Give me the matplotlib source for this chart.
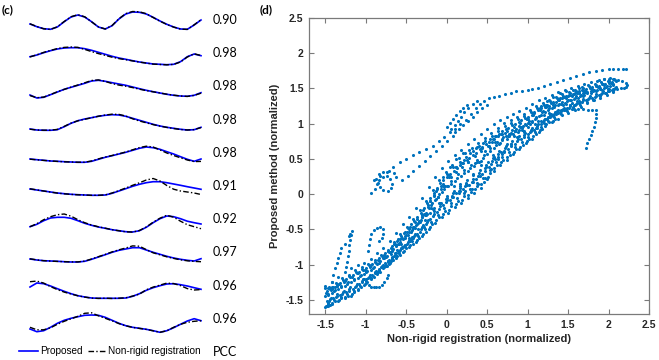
import matplotlib
matplotlib.use("Agg")
import matplotlib.pyplot as plt
from matplotlib.lines import Line2D

# ------------------------------------------------------------------
# Panel (c): ten waveform pairs (heights in px above each row baseline)
# ------------------------------------------------------------------
t_samples = list(range(26))
pcc_values = ["0.90", "0.98", "0.98", "0.98", "0.98", "0.91", "0.92", "0.97", "0.96", "0.96"]

sig1_prop = [6.0, 3.3, 1.3, 0.7, 3.0, 8.3, 13.0, 15.0, 13.0, 8.3, 3.0, 1.0, 4.3, 11.0, 16.0, 18.0, 17.7, 16.0, 12.7, 9.0, 5.7, 3.0, 1.0, 0.7, 5.0, 10.0]
sig1_nrr = [6.2, 3.5, 1.2, 0.6, 3.2, 8.5, 13.3, 15.3, 13.2, 8.2, 3.1, 1.0, 4.5, 11.3, 16.4, 18.5, 18.2, 16.3, 12.5, 8.8, 5.6, 2.9, 0.9, 0.6, 5.2, 10.3]
sig2_prop = [6.5, 8.2, 10.5, 12.5, 14.2, 15.2, 15.5, 15.5, 14.5, 12.9, 10.9, 8.9, 6.9, 5.2, 3.9, 2.5, 1.2, 0.2, -0.8, -1.1, -1.5, -1.1, 1.5, 6.5, 9.2, 7.5]
sig2_nrr = [6.3, 8.4, 10.8, 12.8, 14.6, 15.8, 16.2, 15.8, 13.8, 11.6, 9.6, 7.8, 6.0, 4.6, 3.5, 2.3, 1.1, 0.1, -0.9, -1.3, -1.6, -1.2, 1.2, 6.2, 9.4, 7.7]
sig3_prop = [1.4, -1.6, -0.9, 1.7, 4.4, 7.1, 9.1, 11.1, 13.1, 15.4, 16.1, 15.1, 13.7, 12.4, 11.1, 9.4, 7.7, 6.1, 4.7, 3.4, 2.1, 1.1, 0.4, 0.1, 1.1, 3.7]
sig3_nrr = [0.8, -1.3, -0.7, 1.9, 4.6, 7.0, 9.3, 11.4, 13.6, 15.9, 16.5, 15.0, 12.8, 11.3, 10.2, 8.8, 7.2, 5.8, 4.6, 3.4, 2.2, 1.2, 0.4, 0.0, 1.0, 3.2]
sig4_prop = [0.6, -0.4, -0.7, -0.7, -0.1, 2.9, 6.3, 8.9, 10.6, 11.9, 13.3, 14.3, 14.9, 14.6, 13.3, 11.3, 9.3, 7.3, 5.3, 3.6, 2.3, 1.3, 0.3, -0.4, -0.1, 2.3]
sig4_nrr = [0.4, -0.4, -0.6, -0.6, 0.2, 3.2, 6.5, 8.8, 10.4, 11.8, 13.4, 14.6, 15.4, 15.2, 13.6, 10.8, 8.6, 6.8, 5.0, 3.5, 2.2, 1.1, 0.1, -0.4, 0.0, 2.0]
sig5_prop = [3.8, 3.1, 2.5, 1.8, 1.5, 1.1, 0.8, 0.5, 0.5, 1.5, 3.5, 5.5, 7.1, 8.8, 10.5, 12.5, 14.5, 15.8, 15.1, 13.5, 11.1, 8.8, 6.1, 3.5, 1.5, 3.8]
sig5_nrr = [3.6, 3.0, 2.4, 1.9, 1.4, 1.0, 0.8, 0.6, 0.6, 1.8, 3.9, 5.8, 7.3, 9.0, 10.8, 13.0, 15.2, 16.6, 15.8, 12.9, 9.8, 7.3, 5.0, 2.8, 1.2, 1.4]
sig6_prop = [7.0, 6.0, 5.0, 4.0, 3.0, 2.3, 1.7, 1.3, 1.0, 0.7, 0.7, 1.0, 2.7, 5.0, 7.3, 9.7, 11.7, 13.3, 14.3, 14.3, 13.3, 12.0, 10.7, 9.3, 8.0, 6.7]
sig6_nrr = [7.2, 6.1, 5.0, 3.9, 2.9, 2.2, 1.6, 1.2, 1.0, 0.7, 0.7, 1.1, 3.0, 5.4, 8.0, 10.7, 13.2, 16.0, 17.5, 15.0, 10.5, 6.8, 5.0, 4.0, 3.0, 1.5]
sig7_prop = [2.5, 4.9, 8.5, 11.2, 11.9, 11.9, 10.9, 8.5, 5.9, 3.9, 2.2, 0.9, -0.5, -1.5, -2.5, -2.8, -1.5, 1.9, 6.5, 10.5, 13.2, 12.5, 10.5, 8.0, 6.5, 5.2]
sig7_nrr = [2.5, 5.5, 9.5, 12.5, 14.5, 15.2, 13.0, 9.5, 6.5, 4.2, 2.4, 1.0, -0.5, -1.6, -2.6, -2.9, -1.3, 2.2, 7.0, 11.0, 14.0, 12.0, 8.0, 4.5, 2.5, 0.5]
sig8_prop = [3.4, 2.4, 1.7, 1.4, 1.1, 0.7, 0.4, 0.4, 1.1, 3.1, 5.4, 7.7, 10.1, 12.1, 13.4, 14.7, 14.7, 12.4, 10.1, 8.1, 6.1, 4.4, 3.1, 2.1, 1.4, 3.7]
sig8_nrr = [3.6, 2.5, 1.7, 1.3, 1.0, 0.7, 0.5, 0.5, 1.3, 3.4, 5.7, 8.0, 10.5, 12.6, 14.4, 16.5, 16.2, 12.8, 9.6, 7.6, 5.6, 4.0, 2.6, 1.6, 1.0, 0.7]
sig9_prop = [8.6, 12.6, 11.9, 9.6, 6.9, 4.3, 1.9, -0.1, -1.4, -2.4, -2.7, -2.7, -2.7, -2.7, -2.4, -0.7, 1.9, 5.3, 7.9, 9.9, 11.6, 11.9, 10.9, 9.6, 7.9, 6.3]
sig9_nrr = [13.9, 14.5, 12.5, 9.0, 6.0, 3.5, 1.6, -0.2, -1.5, -2.5, -2.8, -2.6, -2.9, -2.6, -2.2, -0.5, 1.5, 5.8, 8.5, 10.5, 12.5, 12.0, 10.0, 7.0, 5.6, 6.0]
sig10_prop = [-0.2, -2.9, -1.9, 1.5, 5.5, 8.5, 10.5, 12.1, 13.5, 13.8, 13.5, 11.5, 8.5, 5.5, 3.1, 1.5, 0.5, -0.5, -1.9, -3.5, -1.9, 1.1, 4.5, 7.8, 10.1, 8.1]
sig10_nrr = [1.5, -1.0, -1.0, 1.0, 4.5, 7.5, 10.0, 12.5, 15.5, 16.0, 13.0, 10.5, 8.0, 5.2, 3.0, 1.4, 0.4, -0.6, -2.0, -3.5, -2.0, 1.5, 4.5, 6.5, 7.5, 8.0]

# ------------------------------------------------------------------
# Panel (d): scatter points, grouped by trajectory
# ------------------------------------------------------------------
g0 = [-1.50, -1.42, -1.34, -1.26, -1.18, -1.10, -1.02, -0.94, -0.86, -0.78, -0.70, -0.62, -0.54, -0.46, -0.38, -0.30, -0.22, -0.14, -0.06, 0.02, 0.10, 0.18, 0.26, 0.34, 0.42, 0.50, 0.58, 0.66, 0.74, 0.82, 0.90, 0.98, 1.06, 1.14, 1.22, 1.30, 1.38, 1.46, 1.54, 1.62, 1.70, 1.78, 1.86, 1.94, 2.02]
g1 = [-1.49, -1.41, -1.33, -1.25, -1.17, -1.09, -1.01, -0.93, -0.85, -0.77, -0.69, -0.61, -0.53, -0.45, -0.37, -0.29, -0.21, -0.13, -0.05, 0.03, 0.11, 0.19, 0.27, 0.35, 0.43, 0.51, 0.59, 0.67, 0.75, 0.83, 0.91, 0.99, 1.07, 1.15, 1.23, 1.31, 1.39, 1.47, 1.55, 1.63, 1.71, 1.79, 1.87, 1.95, 2.03]
g2 = [-1.48, -1.40, -1.32, -1.24, -1.16, -1.08, -1.00, -0.92, -0.84, -0.76, -0.68, -0.60, -0.52, -0.44, -0.36, -0.28, -0.20, -0.12, -0.04, 0.04, 0.12, 0.20, 0.28, 0.36, 0.44, 0.52, 0.60, 0.68, 0.76, 0.84, 0.92, 1.00, 1.08, 1.16, 1.24, 1.32, 1.40, 1.48, 1.56, 1.64, 1.72, 1.80, 1.88, 1.96, 2.04]
g3 = [-1.47, -1.39, -1.31, -1.23, -1.15, -1.07, -0.99, -0.91, -0.83, -0.75, -0.67, -0.59, -0.51, -0.43, -0.35, -0.27, -0.19, -0.11, -0.03, 0.05, 0.13, 0.21, 0.29, 0.37, 0.45, 0.53, 0.61, 0.69, 0.77, 0.85, 0.93, 1.01, 1.09, 1.17, 1.25, 1.33, 1.41, 1.49, 1.57, 1.65, 1.73, 1.81, 1.89, 1.97, 2.05]
g4 = [-1.46, -1.38, -1.30, -1.22, -1.14, -1.06, -0.98, -0.90, -0.82, -0.74, -0.66, -0.58, -0.50, -0.42, -0.34, -0.26, -0.18, -0.10, -0.02, 0.06, 0.14, 0.22, 0.30, 0.38, 0.46, 0.54, 0.62, 0.70, 0.78, 0.86, 0.94, 1.02, 1.10, 1.18, 1.26, 1.34, 1.42, 1.50, 1.58, 1.66, 1.74, 1.82, 1.90, 1.98, 2.06]
g5 = [-1.45, -1.37, -1.29, -1.21, -1.13, -1.05, -0.97, -0.89, -0.81, -0.73, -0.65, -0.57, -0.49, -0.41, -0.33, -0.25, -0.17, -0.09, -0.01, 0.07, 0.15, 0.23, 0.31, 0.39, 0.47, 0.55, 0.63, 0.71, 0.79, 0.87, 0.95, 1.03, 1.11, 1.19, 1.27, 1.35, 1.43, 1.51, 1.59, 1.67, 1.75, 1.83, 1.91, 1.99, 2.07]
g6 = [-1.44, -1.36, -1.28, -1.20, -1.12, -1.04, -0.96, -0.88, -0.80, -0.72, -0.64, -0.56, -0.48, -0.40, -0.32, -0.24, -0.16, -0.08, 0.00, 0.08, 0.16, 0.24, 0.32, 0.40, 0.48, 0.56, 0.64, 0.72, 0.80, 0.88, 0.96, 1.04, 1.12, 1.20, 1.28, 1.36, 1.44, 1.52, 1.60, 1.68, 1.76, 1.84, 1.92, 2.00, 2.08]
g7 = [-1.43, -1.35, -1.27, -1.19, -1.11, -1.03, -0.95, -0.87, -0.79, -0.71, -0.63, -0.55, -0.47, -0.39, -0.31, -0.23, -0.15, -0.07, 0.01, 0.09, 0.17, 0.25, 0.33, 0.41, 0.49, 0.57, 0.65, 0.73, 0.81, 0.89, 0.97, 1.05, 1.13, 1.21, 1.29, 1.37, 1.45, 1.53, 1.61, 1.69, 1.77, 1.85, 1.93, 2.01, 2.09]

band_f00 = [-1.60, -1.56, -1.52, -1.48, -1.44, -1.36, -1.29, -1.21, -1.13, -1.05, -0.97, -0.90, -0.82, -0.75, -0.68, -0.59, -0.50, -0.41, -0.32, -0.26, -0.18, -0.12, -0.06, 0.02, 0.09, 0.21, 0.33, 0.41, 0.49, 0.57, 0.64, 0.72, 0.79, 0.88, 0.97, 1.02, 1.07]
band_f06 = [-1.58, -1.54, -1.50, -1.46, -1.42, -1.34, -1.27, -1.19, -1.11, -1.03, -0.95, -0.88, -0.80, -0.72, -0.65, -0.56, -0.46, -0.37, -0.28, -0.22, -0.14, -0.08, -0.01, 0.07, 0.14, 0.25, 0.37, 0.45, 0.53, 0.60, 0.67, 0.75, 0.82, 0.91, 0.99, 1.04]
band_f12 = [-1.56, -1.52, -1.48, -1.44, -1.39, -1.32, -1.25, -1.18, -1.10, -1.02, -0.93, -0.86, -0.77, -0.70, -0.62, -0.53, -0.43, -0.33, -0.24, -0.17, -0.09, -0.03, 0.03, 0.11, 0.18, 0.30, 0.41, 0.49, 0.56, 0.64, 0.70, 0.78, 0.85, 0.93, 1.02, 1.07, 1.12, 1.15, 1.19, 1.24, 1.29, 1.33, 1.37, 1.41, 1.45]
band_f18 = [-1.55, -1.50, -1.46, -1.41, -1.37, -1.30, -1.23, -1.16, -1.08, -1.00, -0.91, -0.84, -0.75, -0.67, -0.59, -0.49, -0.39, -0.29, -0.20, -0.13, -0.05, 0.02, 0.08, 0.16, 0.23, 0.34, 0.45, 0.53, 0.60, 0.67, 0.74, 0.81, 0.88, 0.96, 1.04, 1.09, 1.14, 1.18, 1.21, 1.26, 1.31, 1.34, 1.39, 1.43, 1.46]
band_f25 = [-1.52, -1.48, -1.43, -1.39, -1.34, -1.27, -1.21, -1.14, -1.06, -0.98, -0.89, -0.81, -0.72, -0.64, -0.56, -0.46, -0.35, -0.25, -0.15, -0.08, 0.01, 0.07, 0.13, 0.21, 0.28, 0.39, 0.50, 0.57, 0.64, 0.71, 0.78, 0.85, 0.91, 0.99, 1.07, 1.12, 1.17, 1.20, 1.24, 1.29, 1.33, 1.37, 1.41, 1.44, 1.48]
band_f31 = [-1.51, -1.46, -1.41, -1.37, -1.32, -1.25, -1.19, -1.12, -1.04, -0.96, -0.87, -0.79, -0.70, -0.62, -0.53, -0.43, -0.31, -0.21, -0.11, -0.03, 0.05, 0.11, 0.18, 0.26, 0.33, 0.43, 0.53, 0.61, 0.68, 0.75, 0.81, 0.88, 0.94, 1.02, 1.09, 1.14, 1.19, 1.22, 1.26, 1.31, 1.35, 1.38, 1.42, 1.46, 1.49]
band_f37 = [-1.49, -1.44, -1.39, -1.34, -1.30, -1.23, -1.17, -1.10, -1.02, -0.95, -0.86, -0.77, -0.68, -0.59, -0.50, -0.39, -0.28, -0.17, -0.06, 0.01, 0.09, 0.16, 0.22, 0.30, 0.37, 0.47, 0.57, 0.65, 0.71, 0.78, 0.84, 0.91, 0.97, 1.05, 1.12, 1.16, 1.21, 1.25, 1.28, 1.33, 1.37, 1.40, 1.44, 1.47, 1.51]
band_f43 = [-1.47, -1.42, -1.37, -1.32, -1.27, -1.21, -1.15, -1.09, -1.01, -0.93, -0.84, -0.75, -0.65, -0.57, -0.47, -0.36, -0.24, -0.13, -0.02, 0.05, 0.14, 0.20, 0.27, 0.35, 0.42, 0.52, 0.61, 0.69, 0.75, 0.82, 0.87, 0.94, 1.00, 1.07, 1.14, 1.19, 1.23, 1.27, 1.30, 1.35, 1.39, 1.42, 1.46, 1.49, 1.52]
band_f50 = [-1.45, -1.40, -1.35, -1.30, -1.25, -1.19, -1.13, -1.07, -0.99, -0.91, -0.82, -0.73, -0.63, -0.54, -0.44, -0.33, -0.20, -0.08, 0.03, 0.11, 0.19, 0.26, 0.33, 0.40, 0.47, 0.57, 0.66, 0.73, 0.79, 0.86, 0.91, 0.98, 1.04, 1.11, 1.17, 1.22, 1.26, 1.30, 1.33, 1.37, 1.41, 1.44, 1.48, 1.51, 1.54]
band_f56 = [-1.43, -1.38, -1.32, -1.27, -1.22, -1.16, -1.11, -1.05, -0.97, -0.89, -0.80, -0.70, -0.60, -0.51, -0.41, -0.29, -0.16, -0.04, 0.07, 0.15, 0.23, 0.30, 0.37, 0.45, 0.52, 0.61, 0.70, 0.77, 0.83, 0.89, 0.94, 1.01, 1.06, 1.13, 1.19, 1.24, 1.28, 1.32, 1.35, 1.39, 1.43, 1.46, 1.49, 1.52, 1.55]
band_f62 = [-1.41, -1.36, -1.30, -1.25, -1.20, -1.14, -1.09, -1.03, -0.95, -0.88, -0.78, -0.68, -0.58, -0.48, -0.38, -0.26, -0.13, 0.00, 0.11, 0.19, 0.28, 0.35, 0.42, 0.49, 0.56, 0.65, 0.74, 0.81, 0.86, 0.92, 0.97, 1.04, 1.09, 1.16, 1.22, 1.26, 1.31, 1.34, 1.37, 1.41, 1.45, 1.48, 1.51, 1.54, 1.56]
band_f68 = [-1.40, -1.34, -1.28, -1.23, -1.17, -1.12, -1.07, -1.01, -0.93, -0.86, -0.76, -0.66, -0.55, -0.46, -0.35, -0.23, -0.09, 0.04, 0.15, 0.24, 0.32, 0.39, 0.46, 0.54, 0.61, 0.69, 0.78, 0.85, 0.90, 0.96, 1.01, 1.07, 1.12, 1.19, 1.24, 1.29, 1.33, 1.36, 1.39, 1.43, 1.47, 1.49, 1.52, 1.55, 1.58]
band_f75 = [-1.38, -1.32, -1.26, -1.20, -1.15, -1.10, -1.05, -0.99, -0.91, -0.84, -0.74, -0.64, -0.53, -0.43, -0.32, -0.19, -0.05, 0.09, 0.20, 0.29, 0.38, 0.44, 0.52, 0.59, 0.66, 0.74, 0.83, 0.89, 0.94, 1.00, 1.05, 1.10, 1.16, 1.22, 1.27, 1.31, 1.36, 1.39, 1.42, 1.46, 1.49, 1.52, 1.54, 1.57, 1.59]
band_f81 = [-1.36, -1.30, -1.24, -1.18, -1.12, -1.08, -1.03, -0.97, -0.89, -0.82, -0.72, -0.62, -0.50, -0.40, -0.29, -0.16, -0.01, 0.12, 0.24, 0.33, 0.42, 0.49, 0.56, 0.64, 0.71, 0.79, 0.86, 0.93, 0.98, 1.03, 1.08, 1.13, 1.19, 1.24, 1.29, 1.34, 1.38, 1.41, 1.44, 1.48, 1.51, 1.53, 1.56, 1.58, 1.61]
band_f87 = [-1.34, -1.28, -1.22, -1.16, -1.10, -1.06, -1.01, -0.96, -0.88, -0.81, -0.70, -0.60, -0.48, -0.38, -0.26, -0.13, 0.02, 0.16, 0.28, 0.38, 0.46, 0.53, 0.61, 0.68, 0.75, 0.83, 0.90, 0.97, 1.01, 1.07, 1.11, 1.16, 1.22, 1.27, 1.32, 1.36, 1.40, 1.43, 1.46, 1.50, 1.53, 1.55, 1.57, 1.60, 1.62]
band_f93 = [-1.32, -1.26, -1.19, -1.14, -1.08, -1.03, -0.99, -0.94, -0.86, -0.79, -0.68, -0.57, -0.46, -0.35, -0.23, -0.10, 0.06, 0.20, 0.32, 0.42, 0.51, 0.58, 0.66, 0.73, 0.80, 0.87, 0.94, 1.01, 1.05, 1.10, 1.14, 1.19, 1.25, 1.30, 1.34, 1.38, 1.42, 1.45, 1.48, 1.52, 1.55, 1.57, 1.59, 1.61, 1.63]
band_f100 = [-1.30, -1.24, -1.17, -1.11, -1.05, -1.01, -0.97, -0.92, -0.84, -0.77, -0.66, -0.55, -0.43, -0.32, -0.20, -0.06, 0.10, 0.25, 0.37, 0.47, 0.56, 0.63, 0.71, 0.78, 0.85, 0.92, 0.99, 1.05, 1.09, 1.14, 1.18, 1.23, 1.28, 1.33, 1.37, 1.41, 1.45, 1.48, 1.51, 1.54, 1.57, 1.59, 1.61, 1.63, 1.65]

# wandering trajectories across the band (samples 10..40 of the grids)
wander1 = [-1.02, -0.92, -0.83, -0.72, -0.61, -0.50, -0.36, -0.20, -0.04, 0.11, 0.24, 0.37, 0.48, 0.59, 0.67, 0.73, 0.78, 0.82, 0.85, 0.86, 0.89, 0.91, 0.95, 0.99, 1.04, 1.10, 1.14, 1.18, 1.22, 1.26, 1.31]
wander2 = [-0.80, -0.71, -0.63, -0.54, -0.47, -0.39, -0.30, -0.21, -0.13, -0.07, -0.04, 0.01, 0.04, 0.08, 0.15, 0.23, 0.36, 0.50, 0.60, 0.71, 0.81, 0.90, 1.00, 1.08, 1.18, 1.25, 1.31, 1.37, 1.41, 1.44, 1.48]
wander3 = [-0.91, -0.85, -0.79, -0.73, -0.67, -0.58, -0.44, -0.26, -0.07, 0.12, 0.27, 0.38, 0.44, 0.45, 0.44, 0.42, 0.46, 0.53, 0.60, 0.71, 0.83, 0.95, 1.07, 1.15, 1.22, 1.26, 1.27, 1.28, 1.28, 1.29, 1.32]
wander4 = [-0.99, -0.88, -0.77, -0.62, -0.48, -0.33, -0.18, -0.03, 0.07, 0.11, 0.11, 0.12, 0.13, 0.17, 0.26, 0.38, 0.55, 0.71, 0.83, 0.91, 0.97, 1.00, 1.02, 1.04, 1.07, 1.11, 1.15, 1.20, 1.26, 1.32, 1.39]
wander5 = [-0.87, -0.78, -0.71, -0.62, -0.53, -0.43, -0.28, -0.10, 0.08, 0.25, 0.38, 0.50, 0.58, 0.63, 0.66, 0.67, 0.69, 0.74, 0.78, 0.83, 0.89, 0.96, 1.06, 1.15, 1.25, 1.32, 1.38, 1.43, 1.46, 1.48, 1.51]
wander6 = [-0.95, -0.83, -0.71, -0.58, -0.47, -0.37, -0.28, -0.20, -0.13, -0.08, -0.04, 0.04, 0.15, 0.29, 0.46, 0.61, 0.74, 0.83, 0.87, 0.87, 0.88, 0.88, 0.90, 0.94, 1.01, 1.10, 1.18, 1.26, 1.33, 1.39, 1.44]

top_x = [-0.90, -0.82, -0.74, -0.66, -0.58, -0.50, -0.42, -0.34, -0.26, -0.17, -0.10, -0.03, 0.04, 0.10, 0.17, 0.24, 0.30, 0.36, 0.41, 0.46, 0.52, 0.58, 0.65, 0.72, 0.79, 0.86, 0.93, 1.00, 1.06, 1.13, 1.20, 1.28, 1.36, 1.44, 1.52, 1.60, 1.68, 1.76, 1.84, 1.92, 2.00, 2.06, 2.12, 2.18, 2.22]
top_y = [0.20, 0.26, 0.32, 0.38, 0.45, 0.50, 0.55, 0.60, 0.64, 0.69, 0.75, 0.81, 0.88, 0.93, 0.99, 1.05, 1.14, 1.22, 1.28, 1.32, 1.36, 1.38, 1.40, 1.42, 1.44, 1.46, 1.47, 1.48, 1.49, 1.51, 1.53, 1.56, 1.59, 1.62, 1.65, 1.68, 1.71, 1.73, 1.75, 1.76, 1.77, 1.77, 1.78, 1.78, 1.77]
branch_x = [-0.55, -0.48, -0.41, -0.34, -0.27, -0.20, -0.13, -0.06, 0.01, 0.08]
branch_y = [0.20, 0.26, 0.33, 0.40, 0.47, 0.54, 0.61, 0.68, 0.75, 0.82]
fan_x = [0.00, 0.04, 0.08, 0.12, 0.16, 0.20, 0.25, 0.06, 0.10, 0.14, 0.18, 0.22, 0.27, 0.32, 0.37, 0.10, 0.15, 0.20, 0.26, 0.32, 0.38, 0.44, 0.50]
fan_y = [0.95, 1.01, 1.07, 1.13, 1.18, 1.22, 1.26, 0.92, 0.98, 1.04, 1.10, 1.16, 1.22, 1.28, 1.32, 0.88, 0.93, 0.98, 1.04, 1.10, 1.16, 1.22, 1.27]
loop_top_x = [-0.93, -0.89, -0.86, -0.83, -0.79, -0.74, -0.70, -0.68, -0.69, -0.73, -0.78, -0.82, -0.85, -0.87, -0.84, -0.78, -0.71, -0.65, -0.62]
loop_top_y = [0.01, 0.08, 0.15, 0.20, 0.24, 0.26, 0.22, 0.15, 0.09, 0.05, 0.06, 0.10, 0.16, 0.22, 0.28, 0.31, 0.33, 0.30, 0.24]
start_x = [-1.50, -1.47, -1.44, -1.41, -1.38, -1.35, -1.48, -1.46, -1.44]
start_y = [-1.33, -1.33, -1.33, -1.32, -1.31, -1.30, -1.58, -1.58, -1.57]
spike_x = [-1.42, -1.40, -1.38, -1.36, -1.34, -1.32, -1.30, -1.26, -1.21, -1.19, -1.17, -1.18, -1.19, -1.20, -1.21, -1.22, -1.23, -1.24]
spike_y = [-1.25, -1.15, -1.05, -0.98, -0.91, -0.84, -0.77, -0.70, -0.60, -0.56, -0.52, -0.58, -0.65, -0.72, -0.80, -0.88, -0.96, -1.04]
loop_mid_x = [-0.97, -0.96, -0.95, -0.93, -0.90, -0.86, -0.82, -0.79, -0.78, -0.80, -0.83]
loop_mid_y = [-0.80, -0.72, -0.64, -0.57, -0.51, -0.48, -0.47, -0.50, -0.56, -0.62, -0.67]
loop_low_x = [-1.02, -0.99, -0.96, -0.93, -0.90, -0.87, -0.83, -0.80, -0.77, -0.74, -0.72]
loop_low_y = [-1.20, -1.26, -1.29, -1.31, -1.32, -1.32, -1.31, -1.29, -1.25, -1.19, -1.14]
flat12_x = [1.20, 1.27, 1.34, 1.41, 1.48, 1.55, 1.62, 1.69, 1.75, 1.80, 1.85, 1.85, 1.84, 1.83, 1.82, 1.80, 1.78, 1.76, 1.74, 1.72]
flat12_y = [1.12, 1.15, 1.17, 1.19, 1.20, 1.21, 1.21, 1.21, 1.20, 1.20, 1.19, 1.14, 1.08, 1.02, 0.96, 0.90, 0.84, 0.78, 0.72, 0.66]
flat15_x = [1.50, 1.57, 1.64, 1.71, 1.78, 1.85, 1.92, 1.99, 2.05, 2.11, 2.15]
flat15_y = [1.40, 1.42, 1.44, 1.45, 1.46, 1.47, 1.48, 1.49, 1.49, 1.49, 1.50]
curl_x = [1.88, 1.94, 2.00, 2.06, 2.12, 2.17, 2.21, 2.23, 2.22, 2.19]
curl_y = [1.62, 1.63, 1.64, 1.63, 1.62, 1.60, 1.58, 1.55, 1.52, 1.51]

# (grid, first sample index, y-values) for the band strands
band_sets = [
    (g0, 0, band_f00), (g1, 0, band_f06), (g4, 0, band_f12), (g3, 0, band_f18),
    (g2, 0, band_f25), (g5, 0, band_f31), (g6, 0, band_f37), (g7, 0, band_f43),
    (g0, 0, band_f50), (g3, 0, band_f56), (g4, 0, band_f62), (g1, 0, band_f68),
    (g2, 0, band_f75), (g7, 0, band_f81), (g6, 0, band_f87), (g5, 0, band_f93),
    (g0, 0, band_f100),
    (g3, 9, wander1), (g5, 9, wander2), (g1, 9, wander3),
    (g7, 9, wander4), (g2, 9, wander5), (g6, 9, wander6),
]
free_sets = [
    (top_x, top_y), (branch_x, branch_y), (fan_x, fan_y), (loop_top_x, loop_top_y),
    (start_x, start_y), (spike_x, spike_y), (loop_mid_x, loop_mid_y), (loop_low_x, loop_low_y),
    (flat12_x, flat12_y), (flat15_x, flat15_y), (curl_x, curl_y),
]

scatter_x, scatter_y = [], []
for grid, s0, ys in band_sets:
    xs = grid[s0:s0 + len(ys)]
    n = min(len(xs), len(ys))
    scatter_x += xs[:n]
    scatter_y += ys[:n]
for xs, ys in free_sets:
    n = min(len(xs), len(ys))
    scatter_x += xs[:n]
    scatter_y += ys[:n]

tick_vals = [-1.5, -1, -0.5, 0, 0.5, 1, 1.5, 2, 2.5]
tick_labels = ["-1.5", "-1", "-0.5", "0", "0.5", "1", "1.5", "2", "2.5"]

# ------------------------------------------------------------------
W, H = 659, 360
fig = plt.figure(figsize=(W / 100, H / 100), dpi=100)
plt.rcParams["font.family"] = ["Liberation Sans", "DejaVu Sans"]


def fx(px):
    return px / W


def fy(py):
    return 1 - py / H


# ---- panel (c)
axc = fig.add_axes([fx(30), 0, fx(201) - fx(30), 1])
axc.set_xlim(0, 25)
axc.set_ylim(-H, 0)
axc.axis("off")
rows_prop = [sig1_prop, sig2_prop, sig3_prop, sig4_prop, sig5_prop, sig6_prop, sig7_prop, sig8_prop, sig9_prop, sig10_prop]
rows_nrr = [sig1_nrr, sig2_nrr, sig3_nrr, sig4_nrr, sig5_nrr, sig6_nrr, sig7_nrr, sig8_nrr, sig9_nrr, sig10_nrr]
row_pitch = 33.2
dashdot = (0, (4, 1.6, 1, 1.6))
for i, (p, n) in enumerate(zip(rows_prop, rows_nrr)):
    base = -(30 + row_pitch * i)
    axc.plot(t_samples, [base + v for v in p], color="#0000ff", lw=1.2, clip_on=False)
    axc.plot(t_samples, [base + v for v in n], color="black", lw=1.0, ls=dashdot, clip_on=False)
    fig.text(fx(213), fy(20 + row_pitch * i), pcc_values[i], ha="left", va="center",
             fontsize=9, family=["Lato", "DejaVu Sans"])

fig.text(fx(2), fy(10), "(c)", ha="left", va="center", fontsize=8.5, fontweight="bold",
         family=["Lato", "DejaVu Sans"])
fig.text(fx(260), fy(10), "(d)", ha="left", va="center", fontsize=8.5, fontweight="bold",
         family=["Lato", "DejaVu Sans"])

handles = [Line2D([], [], color="#0000ff", lw=1.2),
           Line2D([], [], color="black", lw=1.0, ls=dashdot)]
fig.legend(handles, ["Proposed", "Non-rigid registration"], loc="center left",
           bbox_to_anchor=(fx(19), fy(351.5)), ncol=2, frameon=False, fontsize=7.2,
           handlelength=1.9, handletextpad=0.2, columnspacing=0.5, borderpad=0, borderaxespad=0)
fig.text(fx(213), fy(351.5), "PCC", ha="left", va="center", fontsize=9, family=["Lato", "DejaVu Sans"])

# ---- panel (d)
axd = fig.add_axes([fx(309), fy(314), fx(649) - fx(309), (314 - 18) / H])
axd.scatter(scatter_x, scatter_y, s=5.0, c="#0072BD", linewidths=0)
axd.set_xlim(-1.7, 2.5)
axd.set_ylim(-1.7, 2.5)
axd.set_xticks(tick_vals)
axd.set_xticklabels(tick_labels)
axd.set_yticks(tick_vals)
axd.set_yticklabels(tick_labels)
axd.tick_params(direction="in", length=3.5, width=0.8, top=True, right=True,
                color="#7a7a7a", labelcolor="#262626", labelsize=7.5, pad=4)
for lab in axd.get_xticklabels() + axd.get_yticklabels():
    lab.set_fontweight("bold")
for sp in axd.spines.values():
    sp.set_color("#7a7a7a")
    sp.set_linewidth(0.9)
axd.set_xlabel("Non-rigid registration (normalized)", fontsize=8, fontweight="bold", color="#262626", labelpad=3)
axd.set_ylabel("Proposed method (normalized)", fontsize=8, fontweight="bold", color="#262626", labelpad=4)

fig.savefig("out.png", dpi=100)
